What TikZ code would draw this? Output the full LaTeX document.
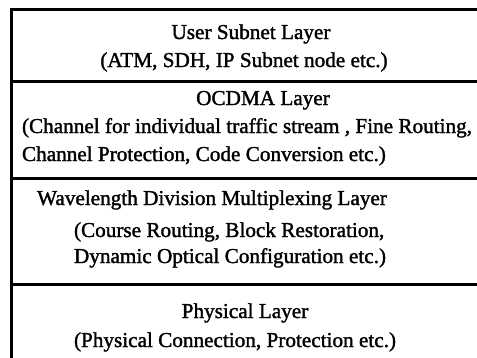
\documentclass[tikz,border=0pt]{standalone}
\usepackage{fontspec}
\setmainfont[FakeBold=1.5]{Liberation Serif}
\begin{document}
\begin{tikzpicture}[x=1pt,y=-1pt,
  rule/.style={line width=3pt,line cap=rect},
  txt/.style={inner sep=0pt,outer sep=0pt,font=\fontsize{21.2}{25}\selectfont}]
\useasboundingbox (0,0) rectangle (477,357);
% frame: top edge and left edge, open at right and bottom
\coordinate (tl) at (11,9.5);
\coordinate (tr) at (480,9.5);
\coordinate (bl) at (11,360);
\draw[rule] (tr) -- (tl) -- (bl);
% layer separators
\foreach \y/\n in {81/a,178/b,284.5/c} {
  \coordinate (s\n l) at (11,\y);
  \coordinate (s\n r) at (480,\y);
  \draw[rule] (s\n l) -- (s\n r);
}
% user subnet layer
\node[txt,anchor=base] (u1) at (251,39) {User Subnet Layer};
\node[txt,anchor=base] (u2) at (244,67) {(ATM, SDH, IP Subnet node etc.)};
% OCDMA layer
\node[txt,anchor=base] (o1) at (263,105) {OCDMA Layer};
\node[txt,anchor=base west] (o2) at (22,133) {(Channel for individual traffic stream , Fine Routing,};
\node[txt,anchor=base west] (o3) at (22,161) {Channel Protection, Code Conversion etc.)};
% WDM layer
\node[txt,anchor=base] (w1) at (212,205) {Wavelength Division Multiplexing Layer};
\node[txt,anchor=base west] (w2) at (74,237) {(Course Routing, Block Restoration,};
\node[txt,anchor=base west] (w3) at (74,263) {Dynamic Optical Configuration etc.)};
% physical layer
\node[txt,anchor=base] (p1) at (245,318) {Physical Layer};
\node[txt,anchor=base west] (p2) at (74,347) {(Physical Connection, Protection etc.)};
\end{tikzpicture}
\end{document}
